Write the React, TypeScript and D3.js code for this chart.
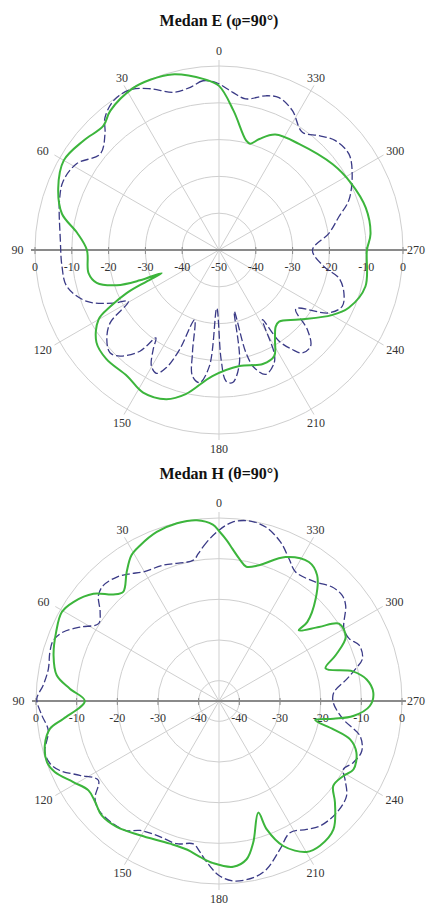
import React from "react";
import * as d3 from "d3";

// spoke angles (deg, counter-clockwise from top)
const spokeAngles = [0, 30, 60, 90, 120, 150, 180, 210, 240, 270, 300, 330];
const ringValues = [-40, -30, -20, -10, 0];
const axisTickLabels = ["-40", "-30", "-20", "-10", "0"];

// Medan E (phi = 90)
const eTitle = "Medan E (φ=90°)";
const eMinDb = -50;
const eSolidAngles = [0, 5, 15, 22, 28, 38, 43, 51, 60, 69, 77, 83, 90, 100, 105, 109, 111, 112, 113.5, 115, 117.5, 120, 127, 134, 144, 152, 160.5, 167, 177, 190, 201, 207.5, 212, 216.5, 220, 229, 240, 246, 256, 270, 276, 286, 297, 307, 323, 334, 340, 343.7, 346, 354];
const eSolidDb = [-5.4, -3.4, -0.6, -0.1, -0.2, -2.0, -3.9, -2.7, -1.3, -3.2, -6.2, -11.1, -14.1, -14.0, -15.6, -20.6, -27.0, -33.2, -28.5, -22.3, -16.7, -12.2, -8.3, -7.4, -7.6, -6.1, -7.0, -9.8, -15.7, -18.0, -16.8, -17.5, -21.3, -24.1, -24.6, -21.2, -14.6, -11.4, -9.0, -9.8, -8.6, -8.5, -9.8, -11.3, -13.9, -15.1, -17.9, -19.9, -19.4, -12.0];
const eDashedAngles = [1, 5.4, 10, 16, 23, 29, 35, 40.7, 44.5, 51, 58.7, 66, 72.7, 86.4, 96, 103.5, 111.3, 116.7, 119.5, 123.8, 128.6, 133.3, 137, 142, 144.3, 146.5, 149.8, 153.1, 155.9, 158.4, 160.7, 165.5, 168.1, 171.7, 175.3, 177.8, 181.1, 183.1, 185.9, 190.3, 194, 194.7, 196.7, 200.7, 206.1, 208.2, 212, 213.4, 216.4, 219, 223.6, 228, 232.5, 240.2, 245.4, 251, 256.8, 261, 270, 278.6, 285.5, 291, 299.8, 306.5, 313.2, 318.8, 324.7, 332.2, 338.5, 343.1, 350, 355];
const eDashedDb = [-4.5, -3.8, -5.1, -5.4, -2.4, -0.2, -0.3, -2.5, -5.8, -8.5, -4.8, -3.7, -4.6, -6.8, -7.1, -7.5, -11.5, -17.9, -21.7, -14.4, -11.0, -9.3, -10.6, -15.1, -20.6, -17.6, -13.5, -12.4, -15.0, -20.9, -29.9, -21.2, -15.0, -13.6, -18.4, -34.2, -20.3, -14.3, -13.8, -18.9, -32.8, -21.1, -16.6, -13.9, -15.9, -18.3, -27.7, -20.3, -16.4, -14.0, -13.9, -17.7, -23.7, -15.6, -13.2, -14.1, -16.5, -21.1, -24.6, -19.8, -16.2, -12.2, -8.3, -6.1, -6.6, -8.7, -10.8, -7.2, -5.5, -6.2, -8.3, -7.0];

// Medan H (theta = 90)
const hTitle = "Medan H (θ=90°)";
const hMinDb = -45;
const hSolidAngles = [0, 2, 7, 13.3, 20.2, 26.9, 31, 35.6, 41.3, 44.8, 49.5, 55.8, 60.5, 67, 74.6, 81, 85.3, 90, 96.5, 99.3, 104.3, 109.5, 113.4, 119.1, 124.4, 129.2, 134.3, 140.9, 149.5, 161, 168, 173, 178, 184.9, 189.9, 193.6, 199.4, 200.4, 203.9, 210.1, 214.9, 221.7, 228.8, 233.4, 238.9, 243, 249.4, 253.7, 256.1, 258.8, 261.2, 263.6, 268.1, 273.1, 278.3, 282.5, 287, 291.4, 296.8, 302.8, 306.5, 311.5, 311.8, 316.6, 322, 327.1, 335.2, 343.6, 348.5, 351.5, 355, 357.3];
const hSolidDb = [-3.2, -1.6, -0.2, -0.1, -0.7, -2.1, -3.2, -6.0, -9.3, -8.1, -4.4, -1.7, -0.6, -1.5, -2.8, -4.6, -8.2, -12.0, -6.5, -2.9, -0.8, -0.1, -1.0, -4.0, -6.1, -5.7, -4.7, -5.1, -6.7, -7.9, -7.6, -6.4, -5.1, -4.1, -5.5, -9.2, -15.9, -11.3, -6.0, -2.1, -1.6, -2.7, -7.1, -10.0, -9.3, -7.9, -8.9, -11.4, -16.0, -20.9, -16.5, -11.8, -7.9, -7.0, -8.3, -11.3, -17.6, -14.2, -10.1, -9.9, -14.4, -18.8, -15.9, -10.4, -5.8, -4.3, -6.0, -10.2, -11.3, -9.9, -7.4, -5.4];
const hDashedAngles = [0, 4.4, 8, 10.3, 22.3, 30.4, 35, 39.5, 45, 48.8, 53.2, 57.3, 62, 66.1, 69.9, 73.8, 79.3, 84.9, 89.3, 94.6, 99.8, 106.3, 110.3, 113.6, 118.1, 123.3, 128.2, 133, 144, 148.6, 155.1, 163.5, 169.8, 172.8, 175.6, 180, 184.6, 191, 195.8, 202.4, 208.3, 214.3, 218.9, 226.5, 233.3, 238.1, 241.2, 245.3, 250.7, 256.1, 261.6, 269.2, 274.2, 279.6, 283, 286.5, 291.7, 295.6, 300.1, 307, 310.6, 315.2, 320.9, 329.3, 333.8, 338.8, 345, 350.6, 355.7];
const hDashedDb = [-3.0, -5.8, -8.4, -9.8, -8.9, -8.2, -6.8, -5.5, -4.8, -5.6, -8.5, -9.8, -6.3, -3.1, -1.6, -1.7, -2.3, -1.6, -0.2, -1.3, -2.4, -0.4, -0.7, -2.3, -6.2, -9.5, -6.2, -5.0, -5.7, -7.7, -8.6, -8.4, -9.3, -7.6, -5.3, -2.1, -0.6, -0.75, -2.0, -5.6, -8.2, -6.8, -5.5, -5.1, -5.9, -8.5, -10.1, -8.7, -7.8, -9.3, -14.1, -16.9, -16.7, -13.2, -10.7, -8.2, -7.9, -9.5, -9.5, -6.0, -5.1, -5.5, -7.3, -8.1, -6.0, -3.1, -0.7, -0.1, -0.9];

const solidColor = "#3cb53c";
const dashedColor = "#3a3a86";
const width = 426;
const height = 907;

type ChartProps = {
  title: string;
  titleY: number;
  cx: number;
  cy: number;
  radius: number;
  minDb: number;
  centerLabel?: string;
  solidAngles: number[];
  solidDb: number[];
  dashedAngles: number[];
  dashedDb: number[];
};

// small horizontal nudge of the angle labels, like the original layout
const labelNudge = (deg: number) => {
  const s = Math.sin((deg * Math.PI) / 180);
  const a = Math.abs(s);
  if (a < 0.1) return 0;
  if (a > 0.95) return -Math.sign(s) * 2.5;
  if (a > 0.8) return -Math.sign(s) * 4;
  return Math.sign(s) * 2.5;
};

const PolarChart = (props: ChartProps) => {
  const { cx, cy, radius, minDb } = props;
  const r = d3.scaleLinear().domain([minDb, 0]).range([0, radius]);
  const toRad = (deg: number) => (-deg * Math.PI) / 180;

  const line = d3
    .lineRadial<[number, number]>()
    .angle((d) => toRad(d[0]))
    .radius((d) => r(Math.max(minDb, d[1])))
    .curve(d3.curveCatmullRomClosed.alpha(0.5));

  const solid = line(props.solidAngles.map((a, i) => [a, props.solidDb[i]]));
  const dashed = line(props.dashedAngles.map((a, i) => [a, props.dashedDb[i]]));

  const pos = (deg: number, rr: number) => [
    cx - rr * Math.sin((deg * Math.PI) / 180),
    cy - rr * Math.cos((deg * Math.PI) / 180),
  ];

  return (
    <g>
      <text x={cx} y={props.titleY} textAnchor="middle" fontSize={16} fontWeight="bold" fill="#111">
        {props.title}
      </text>
      {ringValues.map((v) => (
        <circle key={v} cx={cx} cy={cy} r={r(v)} fill="none" stroke="#cfcfcf" strokeWidth={1} />
      ))}
      {spokeAngles
        .filter((a) => a !== 90 && a !== 270)
        .map((a) => {
          const [x2, y2] = pos(a, radius + 6);
          return <line key={a} x1={cx} y1={cy} x2={x2} y2={y2} stroke="#cfcfcf" strokeWidth={1} />;
        })}
      <line x1={cx - radius - 4} y1={cy} x2={cx + radius + 4} y2={cy} stroke="#8a8a8a" strokeWidth={2} />
      {ringValues.map((v) => (
        <g key={"t" + v}>
          <line x1={cx - r(v)} y1={cy - 3} x2={cx - r(v)} y2={cy + 4} stroke="#8a8a8a" strokeWidth={1} />
          <line x1={cx + r(v)} y1={cy - 3} x2={cx + r(v)} y2={cy + 4} stroke="#8a8a8a" strokeWidth={1} />
        </g>
      ))}
      {ringValues.map((v, i) => (
        <g key={"l" + v} fontSize={12} fill="#333" textAnchor="middle">
          <text x={cx - r(v)} y={cy + 21}>{axisTickLabels[i]}</text>
          <text x={cx + r(v)} y={cy + 21}>{axisTickLabels[i]}</text>
        </g>
      ))}
      {props.centerLabel && (
        <text x={cx} y={cy + 21} fontSize={12} fill="#333" textAnchor="middle">
          {props.centerLabel}
        </text>
      )}
      {spokeAngles.map((a) => {
        const [px, y] = pos(a, radius + 15);
        let x = px + labelNudge(a);
        let anchor = "middle";
        // keep the label inside the picture
        if (x + 10 > width - 1) {
          x = width - 1;
          anchor = "end";
        }
        return (
          <text key={"a" + a} x={x} y={y} dy="0.35em" fontSize={12} fill="#333" textAnchor={anchor}>
            {a}
          </text>
        );
      })}
      <g transform={`translate(${cx},${cy})`}>
        <path d={dashed ?? ""} fill="none" stroke={dashedColor} strokeWidth={1.3} strokeDasharray="8,3" />
        <path d={solid ?? ""} fill="none" stroke={solidColor} strokeWidth={2} />
      </g>
    </g>
  );
};

export default function App() {
  return (
    <svg
      width={width}
      height={height}
      style={{ position: "fixed", left: 0, top: 0, background: "#fff" }}
      fontFamily="'Liberation Serif', 'Times New Roman', serif"
    >
      <PolarChart
        title={eTitle}
        titleY={26}
        cx={219}
        cy={250}
        radius={184}
        minDb={eMinDb}
        centerLabel="-50"
        solidAngles={eSolidAngles}
        solidDb={eSolidDb}
        dashedAngles={eDashedAngles}
        dashedDb={eDashedDb}
      />
      <PolarChart
        title={hTitle}
        titleY={479}
        cx={219}
        cy={701}
        radius={183}
        minDb={hMinDb}
        solidAngles={hSolidAngles}
        solidDb={hSolidDb}
        dashedAngles={hDashedAngles}
        dashedDb={hDashedDb}
      />
    </svg>
  );
}
